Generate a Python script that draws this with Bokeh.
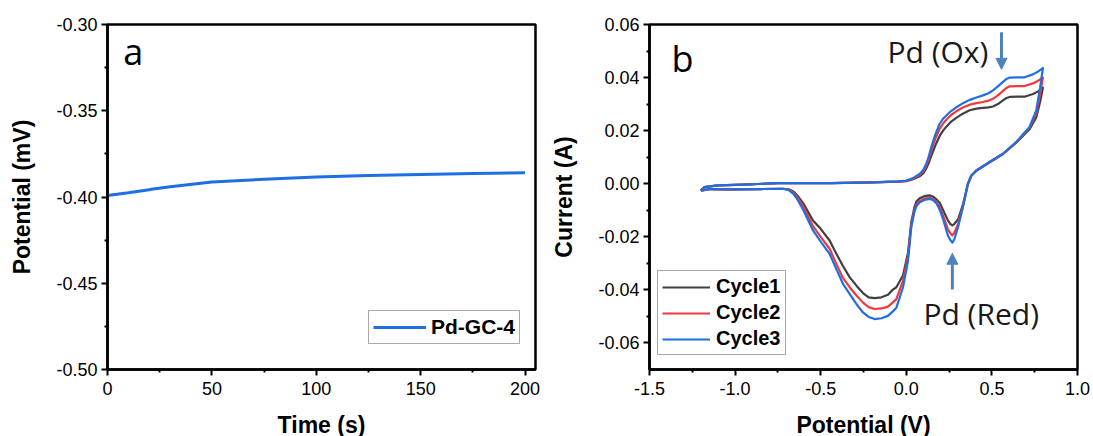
from bokeh.plotting import figure
from bokeh.layouts import row
from bokeh.models import (FixedTicker, PrintfTickFormatter, Legend, LegendItem,
                          Arrow, NormalHead, Range1d)
from bokeh.core.properties import value
from bokeh.embed import file_html
from bokeh.resources import INLINE

# ---------------- Panel a data ----------------
time_s = [0, 10, 20, 21, 30, 50, 75, 100, 125, 150, 175, 200]
potential_mv = [-0.3991, -0.3975, -0.3958, -0.3955, -0.3940, -0.3913, -0.3897,
                -0.3884, -0.3876, -0.3869, -0.3864, -0.3860]
a_xticks = [0, 50, 100, 150, 200]
a_xminor = [25, 75, 125, 175]
a_yticks = [-0.50, -0.45, -0.40, -0.35, -0.30]
a_yminor = [-0.475, -0.425, -0.375, -0.325]
a_series = "Pd-GC-4"

# ---------------- Panel b data (cyclic voltammetry) ----------------
e_forward = [-1.2, -1.18, -1.1, -0.95, -0.75, -0.44, -0.2, -0.05, 0.0, 0.04, 0.078, 0.1,
             0.117, 0.132, 0.146, 0.17, 0.195, 0.215, 0.234, 0.26, 0.292, 0.33, 0.37,
             0.41, 0.448, 0.48, 0.506, 0.535, 0.565, 0.585, 0.604, 0.65, 0.691, 0.74,
             0.77, 0.798]
e_reverse = [0.798, 0.782, 0.759, 0.72, 0.642, 0.565, 0.487, 0.409, 0.38, 0.36, 0.331,
             0.302, 0.28, 0.269, 0.258, 0.243, 0.214, 0.195, 0.175, 0.155, 0.136, 0.105,
             0.078, 0.06, 0.049, 0.029, 0.010, -0.019, -0.058, -0.08, -0.107, -0.145,
             -0.185, -0.22, -0.253, -0.29, -0.331, -0.37, -0.41, -0.448, -0.50, -0.545,
             -0.60, -0.635, -0.658, -0.687, -0.72, -0.853, -1.048, -1.145, -1.2]

cycle1_fwd = [-0.0026, -0.0013, -0.0006, -0.0003, 0.0002, 0.0002, 0.0005, 0.0008, 0.0010,
              0.0017, 0.0028, 0.0040, 0.0058, 0.0080, 0.0105, 0.0145, 0.0180, 0.0200,
              0.0215, 0.0233, 0.0248, 0.0264, 0.0277, 0.0283, 0.0286, 0.0288, 0.0291,
              0.0300, 0.0314, 0.0323, 0.0327, 0.0328, 0.0328, 0.0338, 0.0348, 0.0362]
cycle2_fwd = [-0.0026, -0.0013, -0.0006, -0.0003, 0.0002, 0.0002, 0.0005, 0.0008, 0.0011,
              0.0019, 0.0033, 0.0047, 0.0068, 0.0094, 0.0125, 0.0170, 0.0207, 0.0227,
              0.0241, 0.0258, 0.0273, 0.0287, 0.0298, 0.0304, 0.0308, 0.0313, 0.0320,
              0.0333, 0.0350, 0.0361, 0.0367, 0.0368, 0.0368, 0.0378, 0.0388, 0.0400]
cycle3_fwd = [-0.0026, -0.0013, -0.0006, -0.0003, 0.0002, 0.0002, 0.0005, 0.0009, 0.0012,
              0.0021, 0.0037, 0.0053, 0.0075, 0.0104, 0.0138, 0.0186, 0.0226, 0.0245,
              0.0257, 0.0273, 0.0288, 0.0303, 0.0316, 0.0325, 0.0333, 0.0341, 0.0352,
              0.0367, 0.0384, 0.0395, 0.0400, 0.0401, 0.0401, 0.0412, 0.0423, 0.0436]

cycle1_rev = [0.0362, 0.0310, 0.0250, 0.0205, 0.0155, 0.0112, 0.0081, 0.0049, 0.0030, 0.0,
              -0.0078, -0.0135, -0.0152, -0.0157, -0.0152, -0.0138, -0.0098, -0.0072,
              -0.0058, -0.0048, -0.0044, -0.0047, -0.0055, -0.0066, -0.0085, -0.0145,
              -0.0260, -0.0345, -0.0390, -0.0400, -0.0418, -0.0428, -0.0431, -0.0428,
              -0.0412, -0.0385, -0.0352, -0.0310, -0.0262, -0.0214, -0.0170, -0.0139,
              -0.0076, -0.0045, -0.0030, -0.0021, -0.0019, -0.0020, -0.0021, -0.0020,
              -0.0026]
cycle2_rev = [0.0400, 0.0340, 0.0265, 0.0212, 0.0157, 0.0113, 0.0082, 0.0050, 0.0031, 0.0,
              -0.0085, -0.0152, -0.0185, -0.0195, -0.0187, -0.0172, -0.0118, -0.0088,
              -0.0068, -0.0057, -0.0053, -0.0056, -0.0065, -0.0078, -0.0095, -0.0155,
              -0.0275, -0.0365, -0.0435, -0.0448, -0.0463, -0.0470, -0.0472, -0.0465,
              -0.0448, -0.0422, -0.0390, -0.0355, -0.0300, -0.0245, -0.0200, -0.0160,
              -0.0088, -0.0052, -0.0035, -0.0022, -0.0019, -0.0020, -0.0021, -0.0020,
              -0.0026]
cycle3_rev = [0.0436, 0.0364, 0.0276, 0.0214, 0.0157, 0.0113, 0.0082, 0.0050, 0.0031, 0.0,
              -0.0088, -0.0164, -0.0210, -0.0222, -0.0213, -0.0195, -0.0132, -0.0098,
              -0.0073, -0.0061, -0.0057, -0.0061, -0.0070, -0.0084, -0.0101, -0.0164,
              -0.0290, -0.0390, -0.0467, -0.0482, -0.0498, -0.0507, -0.0510, -0.0502,
              -0.0485, -0.0455, -0.0415, -0.0377, -0.0320, -0.0264, -0.0218, -0.0176,
              -0.0101, -0.0060, -0.0039, -0.0024, -0.0019, -0.0020, -0.0021, -0.0020,
              -0.0026]
cycle_names = ["Cycle1", "Cycle2", "Cycle3"]

b_xticks = [-1.5, -1.0, -0.5, 0.0, 0.5, 1.0]
b_xminor = [-1.25, -0.75, -0.25, 0.25, 0.75]
b_yticks = [-0.06, -0.04, -0.02, 0.00, 0.02, 0.04, 0.06]
b_yminor = [-0.05, -0.03, -0.01, 0.01, 0.03, 0.05]

# annotations: panel letters, peak labels and arrows
a_letter = ("a", 7.6, -0.3154)
b_letter = ("b", -1.371, 0.0473)
ox_text = ("Pd (Ox)", -0.11, 0.0500)
red_text = ("Pd (Red)", 0.10, -0.0488)
ox_arrow = (0.556, 0.0571, 0.0431)
red_arrow = (0.269, -0.0399, -0.0262)

# ---------------- styling ----------------
TICK_FONT = "Liberation Sans"
COL_BLACK = "#404040"
COL_RED = "#f2383a"
COL_BLUE = "#1f6fe3"
ARROW_COL = "#4f81bd"


def make_fig(xr, yr, xt, xm, yt, ym, xfmt, yfmt, xlabel, ylabel, left, right, ylab_standoff):
    p = figure(frame_width=428, frame_height=345,
               x_range=Range1d(*xr), y_range=Range1d(*yr),
               output_backend="svg", toolbar_location=None,
               min_border_left=left, min_border_right=right,
               min_border_top=24, min_border_bottom=40,
               background_fill_color="white", border_fill_color="white")
    p.grid.visible = False
    p.outline_line_color = "black"
    p.outline_line_width = 2.5
    p.outline_line_alpha = 1.0
    p.xaxis.ticker = FixedTicker(ticks=xt, minor_ticks=xm)
    p.yaxis.ticker = FixedTicker(ticks=yt, minor_ticks=ym)
    p.xaxis.formatter = PrintfTickFormatter(format=xfmt)
    p.yaxis.formatter = PrintfTickFormatter(format=yfmt)
    p.xaxis.axis_label = xlabel
    p.yaxis.axis_label = ylabel
    for ax in (p.xaxis[0], p.yaxis[0]):
        ax.axis_line_width = 2.5
        ax.axis_line_color = "black"
        ax.major_tick_in = 0
        ax.major_tick_out = 6
        ax.minor_tick_in = 0
        ax.minor_tick_out = 3
        ax.major_tick_line_width = 2
        ax.minor_tick_line_width = 2
        ax.major_tick_line_color = "black"
        ax.minor_tick_line_color = "black"
        ax.major_label_text_font = TICK_FONT
        ax.major_label_text_font_size = "18px"
        ax.major_label_text_color = "black"
        ax.axis_label_text_font = TICK_FONT
        ax.axis_label_text_font_style = "bold"
        ax.axis_label_text_font_size = "23px"
        ax.axis_label_text_color = "black"
    p.xaxis.major_label_standoff = 6
    p.yaxis.major_label_standoff = 4
    p.xaxis.axis_label_standoff = 14
    p.yaxis.axis_label_standoff = ylab_standoff
    return p


def style_legend(lg):
    lg.border_line_color = "#555555"
    lg.border_line_width = 1.5
    lg.background_fill_color = "white"
    lg.background_fill_alpha = 1.0
    lg.label_text_font = TICK_FONT
    lg.label_text_font_style = "bold"
    lg.label_text_color = "black"
    lg.margin = 0
    lg.padding = 4


def add_text(p, items, size, color):
    p.text(x=[t[1] for t in items], y=[t[2] for t in items], text=[t[0] for t in items],
           text_font=value("Open Sans"), text_font_size=size,
           text_baseline="alphabetic", text_align="left", text_color=color)


# ---------------- Panel a ----------------
pa = make_fig((0, 205), (-0.50, -0.30), a_xticks, a_xminor, a_yticks, a_yminor,
              "%d", "%.2f", "Time (s)", "Potential (mV)", 107, 10, 18)
ra = pa.line(time_s, potential_mv, line_color=COL_BLUE, line_width=3)
add_text(pa, [a_letter], "36px", "black")
leg_a = Legend(items=[LegendItem(label=a_series, renderers=[ra])], location=(261, 25))
style_legend(leg_a)
leg_a.label_text_font_size = "21px"
leg_a.glyph_width = 53
leg_a.glyph_height = 22
leg_a.label_height = 22
leg_a.label_standoff = 5
pa.add_layout(leg_a)

# ---------------- Panel b ----------------
pb = make_fig((-1.5, 1.0), (-0.07, 0.06), b_xticks, b_xminor, b_yticks, b_yminor,
              "%.1f", "%.2f", "Potential (V)", "Current (A)", 104, 16, 18)
cycles = [(cycle1_fwd, cycle1_rev, COL_BLACK), (cycle2_fwd, cycle2_rev, COL_RED),
          (cycle3_fwd, cycle3_rev, COL_BLUE)]
items = []
for name, (fwd, rev, col) in zip(cycle_names, cycles):
    r = pb.line(e_forward + e_reverse, fwd + rev, line_color=col, line_width=2.2,
                line_join="round")
    items.append(LegendItem(label=name, renderers=[r]))

add_text(pb, [b_letter], "36px", "black")
add_text(pb, [ox_text, red_text], "30px", "#1a1a1a")
for (ax_, ys, ye) in (ox_arrow, red_arrow):
    pb.add_layout(Arrow(end=NormalHead(size=11, fill_color=ARROW_COL, line_color=ARROW_COL),
                        x_start=ax_, y_start=ys, x_end=ax_, y_end=ye,
                        line_color=ARROW_COL, line_width=3))

leg_b = Legend(items=items, location=(8, 14))
style_legend(leg_b)
leg_b.label_text_font_size = "20px"
leg_b.glyph_width = 48
leg_b.glyph_height = 22
leg_b.label_height = 22
leg_b.label_standoff = 6
leg_b.spacing = 3
pb.add_layout(leg_b)

layout = row(pa, pb)
open("out.html", "w").write(file_html(layout, INLINE))
